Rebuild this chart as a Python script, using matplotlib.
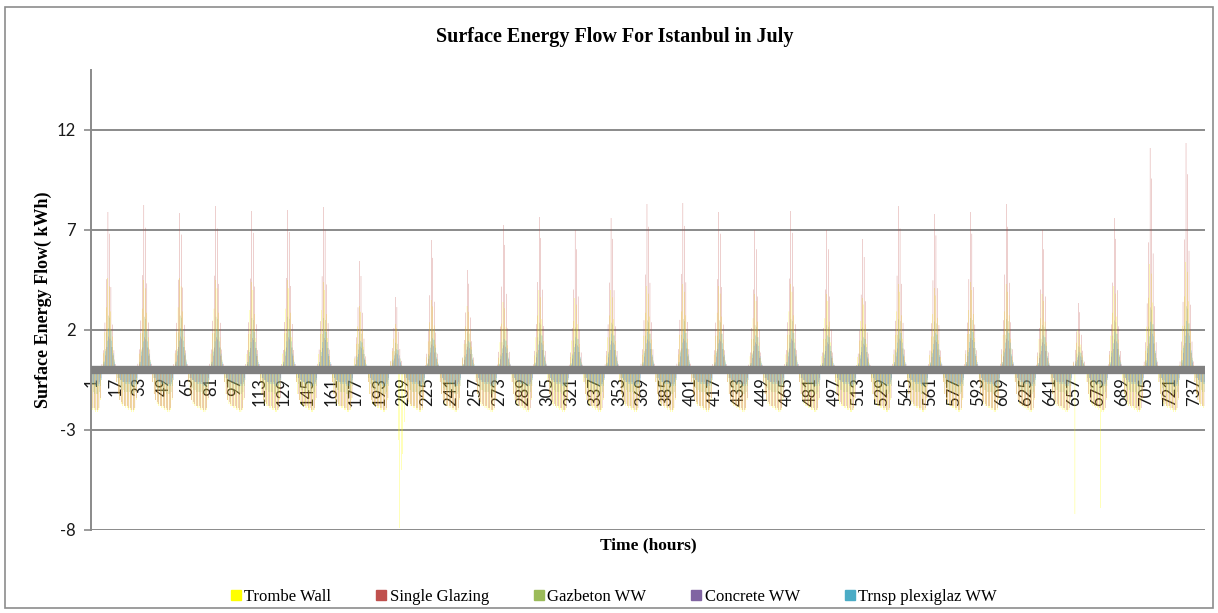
import numpy as np
import matplotlib
matplotlib.use("Agg")
import matplotlib.pyplot as plt
from matplotlib.patches import Rectangle

plt.rcParams["axes.unicode_minus"] = False

# ---- data -------------------------------------------------------------
series_names = ["Trombe Wall", "Single Glazing", "Gazbeton WW", "Concrete WW", "Trnsp plexiglaz WW"]
series_colors = ["#FFFF00", "#C0504D", "#9BBB59", "#8064A2", "#4BACC6"]

# typical clear-day hourly flow (kWh), hours 1..24 of a day
trombe_day = [-1.9, -2.0, -2.0, -2.1, -2.1, -2.0, -1.5, 0.2, 0.8, 1.8, 3.0, 4.4,
              4.0, 2.8, 1.6, 0.7, 0.2, -0.6, -1.2, -1.5, -1.7, -1.8, -1.8, -1.9]
single_day = [-1.8, -1.9, -1.9, -2.0, -2.0, -1.9, -1.4, 0.3, 1.0, 2.4, 4.6, 8.0,
              6.9, 4.2, 2.3, 1.0, 0.3, -0.6, -1.2, -1.5, -1.6, -1.7, -1.8, -1.8]
gazbeton_day = [-1.1, -1.1, -1.2, -1.2, -1.2, -1.1, -0.8, 0.1, 0.4, 1.0, 1.8, 2.6,
                2.5, 1.9, 1.1, 0.5, 0.1, -0.4, -0.7, -0.9, -1.0, -1.0, -1.1, -1.1]
concrete_day = [-0.6, -0.6, -0.7, -0.7, -0.7, -0.6, -0.4, 0.1, 0.3, 0.7, 1.1, 1.6,
                1.5, 1.1, 0.7, 0.3, 0.1, -0.2, -0.4, -0.5, -0.5, -0.6, -0.6, -0.6]
plexi_day = [-0.7, -0.7, -0.8, -0.8, -0.8, -0.7, -0.5, 0.1, 0.4, 0.9, 1.4, 2.0,
             1.9, 1.4, 0.8, 0.4, 0.1, -0.2, -0.4, -0.5, -0.6, -0.6, -0.7, -0.7]

# daily peak of Single Glazing (kWh), days 1..31 of July
single_peak = [7.9, 8.25, 7.85, 8.2, 7.95, 8.0, 8.15, 5.45, 3.65, 6.5, 5.0, 7.25,
               7.65, 7.0, 7.6, 8.3, 8.35, 7.9, 7.0, 7.95, 7.0, 6.55, 8.2, 7.8,
               7.9, 8.3, 7.0, 3.35, 7.6, 11.1, 11.35]
# daily peak of Trombe Wall (kWh), also scales the other walls
trombe_peak = [4.6, 4.5, 4.6, 4.5, 4.4, 4.5, 4.4, 3.2, 2.3, 3.5, 3.2, 3.4,
               4.0, 3.6, 4.0, 4.2, 4.3, 4.2, 3.8, 4.3, 3.8, 3.6, 4.3, 4.1,
               4.4, 4.3, 3.8, 2.0, 4.2, 5.3, 5.4]

# isolated Trombe Wall losses (hour -> kWh)
trombe_dips = {206: -3.5, 207: -7.9, 208: -5.0, 209: -4.2, 210: -2.6,
               658: -7.2, 675: -6.9}

tick_labels = [str(h) for h in range(1, 745, 16)]

# ---- build hourly series ----------------------------------------------
def month_series(day_profile, peaks, ref):
    out = []
    for p in peaks:
        for v in day_profile:
            out.append(v * p / ref if v > 0 else v)
    return np.array(out)

trombe = month_series(trombe_day, trombe_peak, 4.4)
for h, v in trombe_dips.items():
    trombe[h - 1] = v
single = month_series(single_day, single_peak, 8.0)
gazbeton = month_series(gazbeton_day, trombe_peak, 4.4)
concrete = month_series(concrete_day, trombe_peak, 4.4)
plexi = month_series(plexi_day, trombe_peak, 4.4)
all_series = [trombe, single, gazbeton, concrete, plexi]

hours = np.arange(len(single))

# ---- figure -----------------------------------------------------------
fig = plt.figure(figsize=(12.18, 6.13), dpi=100)
fig.patches.append(Rectangle((5 / 1218, 5 / 613), 1208 / 1218, 601 / 613,
                             transform=fig.transFigure, fill=False,
                             edgecolor="#8c8c8c", linewidth=1.2))
ax = fig.add_axes([91 / 1218, 1 - 530 / 613, 1114 / 1218, 460 / 613])

bw = 0.18
for k, (vals, name, col) in enumerate(zip(all_series, series_names, series_colors)):
    bars = ax.bar(hours + (k - 2) * bw, vals, width=bw, color=col, linewidth=0,
                  label=name, zorder=2)
    for b in bars:
        b.set_snap(False)

ax.set_xlim(-0.5, len(hours) - 0.5)
ax.set_ylim(-8, 15)
ax.set_yticks([-8, -3, 2, 7, 12])
ax.yaxis.grid(True, color="#8a8a8a", linewidth=1.4, zorder=1)
ax.set_axisbelow(True)

for s in ["top", "right"]:
    ax.spines[s].set_visible(False)
ax.spines["left"].set_color("#8a8a8a")
ax.spines["left"].set_linewidth(1.4)
ax.spines["bottom"].set_position(("data", 0))
ax.spines["bottom"].set_color("#808080")
ax.spines["bottom"].set_linewidth(6)
ax.spines["bottom"].set_capstyle("butt")
ax.spines["bottom"].set_zorder(3)

ax.set_xticks(hours[::16])
ax.set_xticklabels(tick_labels, rotation=90, fontsize=12, family="Lato", color="#1a1a1a")
ax.tick_params(axis="x", length=0, pad=5)
ax.tick_params(axis="y", length=5, color="#8a8a8a", width=1.2, labelsize=12, pad=6,
               labelcolor="#1a1a1a")
for t in ax.get_yticklabels():
    t.set_family("Lato")

ax.set_ylabel("Surface Energy Flow( kWh)", family="Liberation Serif",
              fontsize=13, fontweight="bold", labelpad=3)
fig.text(648 / 1218, 1 - 545 / 613, "Time (hours)", family="Liberation Serif",
         fontsize=12.5, fontweight="bold", ha="center", va="center")
fig.text(615 / 1218, 1 - 37 / 613, "Surface Energy Flow For Istanbul in July",
         family="Liberation Serif", fontsize=14.5, fontweight="bold",
         ha="center", va="center")

handles = [Rectangle((0, 0), 1, 1, color=c) for c in series_colors]
fig.legend(handles, series_names, loc="center", bbox_to_anchor=(614 / 1218, 1 - 597 / 613),
           ncol=5, frameon=False, prop={"family": "Liberation Serif", "size": 12},
           handlelength=0.6, handleheight=0.6, handletextpad=0.2, columnspacing=2.7)

fig.savefig("out.png", dpi=100)
